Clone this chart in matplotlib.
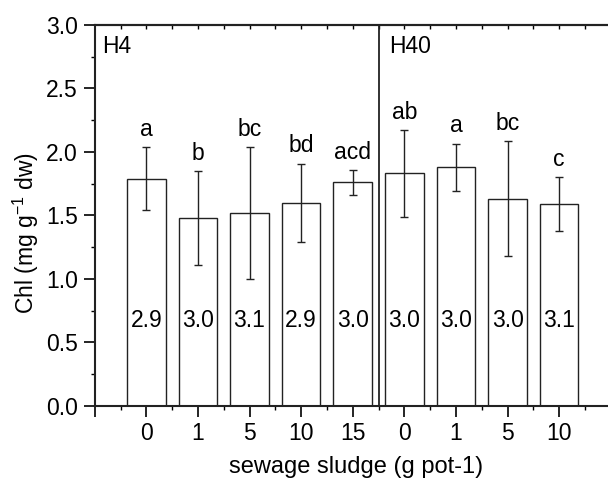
import matplotlib
matplotlib.use("Agg")
import matplotlib.pyplot as plt
import numpy as np

plt.rcParams['font.family'] = ['Liberation Sans', 'DejaVu Sans']
plt.rcParams['mathtext.fontset'] = 'custom'
plt.rcParams['mathtext.rm'] = 'Liberation Sans'
plt.rcParams['mathtext.it'] = 'Liberation Sans:italic'

# Data
groups = ['H4', 'H40']
tick_labels = ['0', '1', '5', '10', '15', '0', '1', '5', '10']
values = [1.79, 1.48, 1.52, 1.60, 1.76, 1.83, 1.88, 1.63, 1.59]
err_upper = [2.035, 1.85, 2.037, 1.906, 1.858, 2.171, 2.066, 2.084, 1.803]
err_lower = [1.541, 1.108, 0.998, 1.291, 1.657, 1.486, 1.693, 1.176, 1.373]
letters = ['a', 'b', 'bc', 'bd', 'acd', 'ab', 'a', 'bc', 'c']
inner_labels = ['2.9', '3.0', '3.1', '2.9', '3.0', '3.0', '3.0', '3.0', '3.1']

FS = 16.5

fig = plt.figure(figsize=(6.08, 4.79), dpi=100)
ax = fig.add_axes([0.1558, 0.1530, 0.8487, 0.7948])

x = np.arange(1, len(values) + 1)
vals = np.array(values)
yerr = np.array([vals - np.array(err_lower), np.array(err_upper) - vals])

ax.bar(x, vals, width=0.75, color='white', edgecolor='#222222', linewidth=1.0, zorder=2)
ax.errorbar(x, vals, yerr=yerr, fmt='none', ecolor='#222222', elinewidth=1.0,
            capsize=3, capthick=1.0, zorder=3)

for xi, top, lt in zip(x, err_upper, letters):
    ax.text(xi, top + 0.05, lt, ha='center', va='bottom', fontsize=FS)
for xi, lab in zip(x, inner_labels):
    ax.text(xi, 0.675, lab, ha='center', va='center', fontsize=FS)

ax.axvline(5.5, color='#222222', linewidth=1.3, zorder=4)

ax.text(0.15, 2.92, groups[0], ha='left', va='top', fontsize=FS)
ax.text(5.7, 2.92, groups[1], ha='left', va='top', fontsize=FS)

ax.set_xlim(0, 10)
ax.set_ylim(0, 3.0)
ax.set_xticks(np.arange(0, 10))
ax.set_xticklabels([''] + tick_labels, fontsize=FS)
ax.set_xticks(np.arange(0.5, 10, 1.0), minor=True)
ax.set_yticks(np.arange(0, 3.01, 0.5))
ax.set_yticklabels([f'{v:.1f}' for v in np.arange(0, 3.01, 0.5)], fontsize=FS)
ax.set_yticks(np.arange(0.25, 3.0, 0.5), minor=True)

ax.tick_params(axis='both', which='major', direction='out', length=8, width=1.2, pad=4)
ax.tick_params(axis='both', which='minor', direction='out', length=3, width=1.0)

for s in ['left', 'bottom', 'top']:
    ax.spines[s].set_linewidth(1.5)
    ax.spines[s].set_color('#222222')
ax.spines['right'].set_visible(False)

sec = ax.secondary_xaxis('top')
sec.set_xticks(np.arange(0.5, 10, 0.5))
sec.tick_params(direction='in', length=3, width=1.0, labeltop=False)
sec.spines['top'].set_linewidth(1.5)

ax.set_ylabel('Chl (mg g$^{-1}$ dw)', fontsize=FS)
ax.yaxis.set_label_coords(-0.104, 0.454)
ax.set_xlabel('sewage sludge (g pot-1)', fontsize=17)
ax.xaxis.set_label_coords(356 / 608, 5.5 / 479, transform=fig.transFigure)
ax.xaxis.label.set_va('baseline')

fig.savefig('out.png', dpi=100)
